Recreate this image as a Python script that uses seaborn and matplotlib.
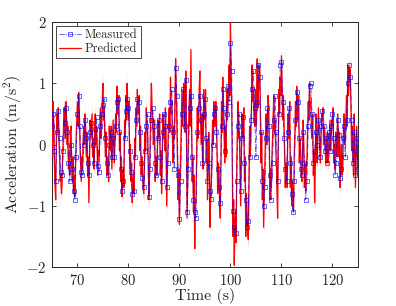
import numpy as np
import pandas as pd
import matplotlib
matplotlib.use("Agg")
import matplotlib.pyplot as plt
import seaborn as sns

# measured: 65 s .. 125 s, 4 samples per second
t_start = 65.0
meas_step = 0.25
# predicted: same span, 8 samples per second
pred_step = 0.125

measured = [
    0.3, 0.5, -0.1, -0.6,   0.2, 0.55, 0.1, -0.45,   -0.5, -0.1, 0.35, 0.6,
    0.2, -0.3, -0.6, 0.0,   -0.4, -0.75, -0.9, -0.2,  0.5, 0.8, 0.3, -0.45,
    -0.5, 0.0, 0.4, 0.1,    -0.3, -0.5, 0.2, 0.35,   0.0, -0.3, 0.25, 0.45,
    -0.35, -0.45, 0.3, 0.5, 0.65, 0.75, 0.1, -0.3,   -0.5, 0.0, 0.2, -0.2,
    0.1, -0.2, 0.3, 0.7,    0.75, 0.2, -0.4, -0.75,  -0.6, 0.1, 0.55, 0.75,
    0.6, -0.1, -0.45, -0.8, -0.75, -0.2, 0.4, 0.75,  0.7, 0.2, -0.3, -0.55,
    -0.7, -0.1, 0.3, 0.5,   -0.85, -0.4, 0.4, 0.6,   0.3, -0.3, -0.5, 0.1,
    0.4, -0.2, -0.6, 0.2,   0.5, 0.3, -0.7, -0.3,    0.3, 0.7, 0.9, 0.2,
    -0.4, 1.25, 0.8, -0.5,  -1.22, -0.6, 0.5, 0.9,   0.3, 1.05, -1.1, -0.4,
    0.6, 0.8, -0.2, -0.9,   -1.1, -1.2, 0.2, 0.6,    0.8, 0.4, -0.3, 0.5,
    0.75, 0.1, -0.6, -0.3,  -0.75, -0.88, 0.0, 0.5,  0.6, 0.2, -0.4, -0.7,
    -0.95, 0.3, 0.9, 0.6,   -0.1, 0.5, 0.95, 0.7,    1.65, 1.2, -1.08, -1.35,
    -1.45, -0.6, 0.3, 0.5,  -0.75, 0.1, 0.45, -0.3,  -0.9, -1.35, -1.25, -0.2,
    0.4, 0.9, 1.2, 0.6,     -0.2, 0.7, 1.3, 1.1,     0.2, -0.6, -1.0, -0.7,
    0.1, 0.6, 0.3, -0.5,    -0.9, -0.3, 0.4, 0.8,    0.2, -0.6, 0.5, 1.3,
    1.35, 0.7, 0.1, -0.4,   -0.6, 0.2, 0.6, -0.3,    -0.8, -1.1, -0.6, 0.4,
    0.85, 0.7, 0.1, -0.4,   -0.5, 0.2, -0.3, -0.9,   -0.6, 0.3, 0.95, 1.0,
    0.5, -0.3, -0.1, 0.2,   0.0, 0.4, -0.2, 0.3,     0.55, 0.3, -0.1, 0.1,
    -0.3, 0.2, -0.1, 0.3,   0.5, 0.1, -0.5, -0.3,    0.4, 0.15, -0.55, -0.4,
    0.1, 0.3, -0.2, 0.4,    1.0, 1.3, 1.1, 0.4,      -0.3, 0.2, -0.5, 0.1,
    -0.4,
]

predicted = [
    0.4, -0.2, 0.7, 0.3, -0.3, -0.7, -0.9, 0.1,
    0.5, 0.2, 0.6, 0.1, -0.2, -0.6, -0.5, -0.8,
    -0.6, -0.1, 0.2, 0.6, 0.5, 0.1, 0.7, 0.4,
    0.0, 0.3, -0.4, -0.1, -0.5, 0.2, 0.3, -0.3,
    -0.6, -0.2, -0.8, -0.5, -0.85, -0.3, 0.1, 0.4,
    0.7, 0.3, 0.85, 0.5, 0.0, -0.3, -0.6, -0.2,
    -0.4, 0.1, 0.3, 0.0, 0.5, 0.2, -0.2, 0.2,
    -0.5, -0.2, -0.95, -0.3, 0.4, 0.1, 0.3, 0.5,
    -0.2, 0.1, -0.4, 0.2, 0.5, 0.0, 0.3, -0.1,
    -0.5, -0.1, -0.2, 0.2, 0.6, 0.1, 0.3, 0.7,
    1.0, 0.4, 0.6, 0.1, -0.2, 0.2, -0.5, -0.2,
    -0.3, -0.6, 0.3, 0.0, -0.1, 0.3, -0.4, 0.0,
    0.4, 0.0, -0.3, 0.2, 0.5, 0.2, 0.95, 0.5,
    0.6, 0.8, -0.1, 0.2, -0.6, -0.2, -0.85, -0.5,
    -0.4, -0.7, 0.4, 0.1, 0.8, 0.4, 1.0, 0.6,
    0.4, 0.7, -0.4, 0.0, -0.6, -0.3, -0.95, -0.6,
    -0.5, -0.8, 0.1, -0.2, 0.6, 0.3, 0.9, 0.5,
    0.5, 0.8, -0.1, 0.3, -0.5, -0.2, -0.4, -0.7,
    -0.8, -0.4, 0.2, -0.1, 0.6, 0.3, 0.2, -0.3,
    -0.9, -0.5, 0.0, 0.5, 1.0, 0.6, 0.4, 0.0,
    0.1, 0.4, -0.6, -0.2, -0.2, -0.5, 0.4, 0.1,
    0.2, 0.5, -0.5, -0.1, -0.8, -0.3, 0.5, 0.1,
    0.3, -0.1, 0.6, 0.2, -1.0, -0.5, 0.0, 0.4,
    0.6, 0.2, 1.1, 0.5, 0.7, 0.1, -0.3, 0.3,
    0.1, 0.8, 1.4, 0.9, 0.3, -0.3, -0.9, -0.4,
    -1.3, -0.6, -0.1, 0.4, 0.9, 0.3, 0.6, 1.0,
    0.7, 0.2, 1.2, 0.3, -1.2, -0.5, 0.1, 0.6,
    0.9, 0.3, 1.55, 0.4, -0.6, -0.2, -1.1, -0.5,
    -1.7, -1.0, -0.9, -0.2, 0.6, 0.1, 0.4, 0.9,
    1.2, 0.5, 0.0, 0.5, 0.1, -0.4, 0.9, 0.4,
    0.5, 0.9, -0.3, 0.1, -0.9, -0.4, 0.2, -0.2,
    -1.35, -0.8, -0.6, -0.1, 0.4, 0.0, 0.7, 0.3,
    0.3, 0.7, 0.5, -0.1, -0.8, -0.3, -0.4, -0.9,
    -1.2, -0.4, 0.7, 0.2, 1.1, 0.5, 0.2, -0.3,
    0.3, -0.2, 0.9, 0.4, 0.6, 1.0, 1.3, 0.8,
    2.0, 1.2, 0.6, -0.4, -1.5, -0.9, -1.97, -1.3,
    -1.1, -1.6, -0.2, 0.3, 0.7, 0.1, 0.2, -0.4,
    -1.0, -0.3, 0.5, 0.1, 0.2, 0.6, -0.6, -0.2,
    -1.5, -0.8, -1.1, -1.4, -1.55, -0.6, 0.3, -0.2,
    0.1, 0.6, 1.3, 0.7, 0.9, 0.4, 0.3, 0.9,
    0.3, 0.8, 1.4, 0.6, 0.9, 1.3, 1.25, 0.5,
    -0.3, 0.2, -0.9, -0.4, -1.35, -0.8, -0.3, 0.2,
    0.5, 0.0, 0.3, 0.8, 0.6, 0.0, -0.9, -0.4,
    -0.7, -0.2, 0.1, 0.5, 0.8, 0.2, 0.4, -0.1,
    -0.3, -0.8, -1.2, 0.0, 0.9, 0.5, 1.1, 0.8,
    1.45, 0.9, 0.4, 0.8, 0.4, -0.2, -0.7, -0.3,
    -0.3, -0.7, 0.5, 0.1, 0.3, 0.7, -0.7, -0.2,
    -1.0, -0.6, -0.9, -1.1, -0.2, 0.2, 0.7, 0.3,
    0.95, 0.5, 0.4, 0.8, -0.3, 0.1, -0.1, -0.5,
    -0.6, -0.2, 0.4, 0.0, -0.7, -0.3, -0.75, -0.4,
    -0.2, 0.3, 0.7, 0.4, 1.0, 0.6, 0.7, 0.2,
    0.1, 0.5, -0.5, -0.1, -0.95, -0.4, 0.5, 0.0,
    -0.3, 0.2, 0.6, 0.2, 0.1, -0.3, 0.0, 0.5,
    0.4, 0.6, 0.0, 0.3, 0.2, -0.2, -0.3, 0.1,
    0.2, -0.3, -0.2, 0.1, 0.4, -0.1, 0.1, 0.4,
    0.3, 0.6, -0.3, 0.0, -0.4, 0.2, 0.1, -0.2,
    0.5, 0.1, -0.2, 0.2, -0.7, -0.3, 0.0, -0.5,
    -0.4, 0.1, 0.5, 0.0, 0.1, 0.4, 0.8, 0.3,
    1.3, 0.8, 1.0, 1.25, 1.2, 0.5, -0.1, 0.3,
    -0.2, -0.5, 0.5, 0.0, -0.7, -0.2, 0.3, -0.1,
    -0.5,
]

meas_df = pd.DataFrame({"time": t_start + meas_step * np.arange(len(measured)),
                        "acc": measured})
pred_df = pd.DataFrame({"time": t_start + pred_step * np.arange(len(predicted)),
                        "acc": predicted})

sns.set_style("ticks")
plt.rcParams["font.family"] = ["cmr10", "DejaVu Serif"]
plt.rcParams["mathtext.fontset"] = "cm"
plt.rcParams["axes.formatter.use_mathtext"] = True
plt.rcParams["axes.unicode_minus"] = True

fig = plt.figure(figsize=(3.96, 3.06), dpi=100)
ax = fig.add_axes([0.131, 0.127, 0.773, 0.801])

# faint band around the prediction
ax.fill_between(pred_df["time"], pred_df["acc"] - 0.15, pred_df["acc"] + 0.15,
                color="red", alpha=0.3, linewidth=0, zorder=1)

sns.lineplot(data=meas_df, x="time", y="acc", ax=ax, color="blue",
             linestyle="-.", linewidth=0.6, marker="s", markersize=3.4,
             markerfacecolor="none", markeredgecolor="blue",
             markeredgewidth=0.6, alpha=0.7, label="Measured", zorder=4)
sns.lineplot(data=pred_df, x="time", y="acc", ax=ax, color="red",
             linewidth=0.9, label="Predicted", zorder=3)

ax.set_xlim(65, 125)
ax.set_ylim(-2, 2)
ax.set_xticks([70, 80, 90, 100, 110, 120])
ax.set_yticks([-2, -1, 0, 1, 2])
ax.tick_params(direction="in", length=3, width=0.6, labelsize=10.5,
               top=True, right=True, colors="#262626", pad=4)
for s in ax.spines.values():
    s.set_linewidth(0.7)
    s.set_color("#262626")
ax.set_xlabel("Time (s)", fontsize=11.5, labelpad=0)
ax.set_ylabel(r"Acceleration (m/s$^2$)", fontsize=11.5, labelpad=2)

leg = ax.legend(loc="upper left", fontsize=9, frameon=True, fancybox=False,
                borderpad=0.25, handlelength=1.8, handletextpad=0.3,
                labelspacing=0.15, borderaxespad=0.3)
leg.get_frame().set_edgecolor("#262626")
leg.get_frame().set_linewidth(0.6)
leg.get_frame().set_facecolor("white")
leg.get_frame().set_alpha(1)

fig.savefig("out.png", dpi=100)
